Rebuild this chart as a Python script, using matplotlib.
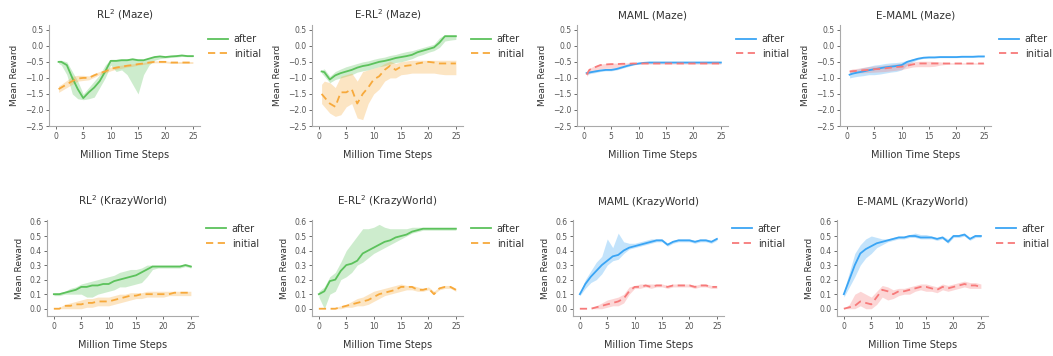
import matplotlib
matplotlib.use("Agg")
import matplotlib.pyplot as plt

# ---------------- data ----------------
x_maze = [0.5, 1, 2, 3, 4, 5, 6, 7, 8, 9, 10, 11, 12, 13, 14, 15, 16, 17, 18, 19, 20, 21, 22, 23, 24, 25]
x_krazy = [0, 1, 2, 3, 4, 5, 6, 7, 8, 9, 10, 11, 12, 13, 14, 15, 16, 17, 18, 19, 20, 21, 22, 23, 24, 25]

titles = ["RL$^2$ (Maze)", "E-RL$^2$ (Maze)", "MAML (Maze)", "E-MAML (Maze)",
          "RL$^2$ (KrazyWorld)", "E-RL$^2$ (KrazyWorld)", "MAML (KrazyWorld)", "E-MAML (KrazyWorld)"]
series_labels = ["after", "initial"]
maze_yticks = [0.5, 0.0, -0.5, -1.0, -1.5, -2.0, -2.5]
krazy_yticks = [0.0, 0.1, 0.2, 0.3, 0.4, 0.5, 0.6]
xticks = [0, 5, 10, 15, 20, 25]

# RL2 (Maze)
rl2_maze_after = [-0.5, -0.5, -0.6, -1.0, -1.35, -1.63, -1.45, -1.3, -1.1, -0.8, -0.47, -0.47, -0.45, -0.45, -0.42, -0.45, -0.45, -0.4, -0.35, -0.33, -0.35, -0.33, -0.32, -0.3, -0.32, -0.32]
rl2_maze_after_lo = [-0.55, -0.6, -0.9, -1.5, -1.65, -1.68, -1.65, -1.6, -1.3, -1.0, -0.6, -0.8, -0.75, -0.9, -1.2, -1.5, -0.9, -0.6, -0.45, -0.4, -0.38, -0.36, -0.35, -0.33, -0.34, -0.34]
rl2_maze_after_hi = [-0.45, -0.45, -0.5, -0.8, -1.1, -1.5, -1.3, -1.1, -0.9, -0.6, -0.42, -0.42, -0.4, -0.4, -0.38, -0.4, -0.42, -0.37, -0.32, -0.3, -0.32, -0.3, -0.29, -0.28, -0.3, -0.3]
rl2_maze_init = [-1.35, -1.3, -1.2, -1.1, -1.02, -1.0, -1.0, -0.92, -0.85, -0.8, -0.72, -0.68, -0.65, -0.62, -0.6, -0.57, -0.55, -0.52, -0.5, -0.5, -0.5, -0.52, -0.52, -0.52, -0.52, -0.52]
rl2_maze_init_lo = [-1.45, -1.4, -1.3, -1.2, -1.1, -1.08, -1.06, -0.98, -0.9, -0.85, -0.78, -0.73, -0.7, -0.66, -0.64, -0.6, -0.58, -0.55, -0.53, -0.53, -0.53, -0.55, -0.55, -0.55, -0.55, -0.55]
rl2_maze_init_hi = [-1.25, -1.2, -1.08, -0.95, -0.92, -0.92, -0.94, -0.86, -0.8, -0.75, -0.66, -0.63, -0.6, -0.58, -0.56, -0.54, -0.52, -0.49, -0.47, -0.47, -0.47, -0.49, -0.49, -0.49, -0.49, -0.49]

# E-RL2 (Maze)
erl2_maze_after = [-0.8, -0.82, -1.05, -0.92, -0.85, -0.8, -0.75, -0.68, -0.63, -0.6, -0.55, -0.5, -0.47, -0.43, -0.38, -0.35, -0.32, -0.28, -0.2, -0.15, -0.1, -0.05, 0.1, 0.3, 0.3, 0.3]
erl2_maze_after_lo = [-0.85, -0.95, -1.15, -1.05, -1.0, -0.95, -0.9, -0.82, -0.78, -0.75, -0.7, -0.65, -0.62, -0.57, -0.52, -0.5, -0.45, -0.4, -0.32, -0.27, -0.2, -0.15, -0.05, 0.15, 0.18, 0.2]
erl2_maze_after_hi = [-0.75, -0.72, -0.95, -0.8, -0.72, -0.65, -0.6, -0.55, -0.5, -0.47, -0.42, -0.38, -0.35, -0.3, -0.27, -0.22, -0.18, -0.15, -0.1, -0.05, 0.0, 0.05, 0.25, 0.35, 0.35, 0.35]
erl2_maze_init = [-1.5, -1.6, -1.8, -1.9, -1.45, -1.45, -1.35, -1.8, -1.5, -1.3, -1.05, -0.95, -0.75, -0.62, -0.75, -0.65, -0.62, -0.6, -0.55, -0.52, -0.5, -0.52, -0.55, -0.55, -0.55, -0.55]
erl2_maze_init_lo = [-1.8, -1.9, -2.1, -2.2, -2.15, -1.9, -1.8, -2.25, -2.3, -1.8, -1.5, -1.35, -1.1, -1.0, -1.0, -0.9, -0.88, -0.85, -0.85, -0.85, -0.85, -0.85, -0.88, -0.9, -0.9, -0.9]
erl2_maze_init_hi = [-1.2, -1.1, -1.15, -1.3, -0.95, -0.9, -0.85, -1.1, -0.8, -0.75, -0.7, -0.65, -0.55, -0.48, -0.55, -0.5, -0.47, -0.45, -0.45, -0.45, -0.45, -0.45, -0.45, -0.45, -0.45, -0.45]

# MAML (Maze)
maml_maze_after = [-0.85, -0.83, -0.8, -0.77, -0.75, -0.75, -0.72, -0.67, -0.62, -0.58, -0.55, -0.53, -0.52, -0.52, -0.52, -0.52, -0.52, -0.52, -0.52, -0.52, -0.52, -0.52, -0.52, -0.52, -0.52, -0.52]
maml_maze_after_lo = [-0.9, -0.87, -0.84, -0.8, -0.78, -0.78, -0.75, -0.7, -0.65, -0.6, -0.57, -0.55, -0.54, -0.54, -0.54, -0.54, -0.54, -0.54, -0.54, -0.54, -0.54, -0.54, -0.54, -0.54, -0.54, -0.54]
maml_maze_after_hi = [-0.8, -0.79, -0.76, -0.74, -0.72, -0.72, -0.69, -0.64, -0.59, -0.56, -0.53, -0.51, -0.5, -0.5, -0.5, -0.5, -0.5, -0.5, -0.5, -0.5, -0.5, -0.5, -0.5, -0.5, -0.5, -0.5]
maml_maze_init = [-0.9, -0.75, -0.67, -0.6, -0.58, -0.57, -0.57, -0.56, -0.56, -0.55, -0.55, -0.55, -0.55, -0.55, -0.55, -0.55, -0.55, -0.55, -0.55, -0.55, -0.55, -0.55, -0.55, -0.55, -0.55, -0.55]
maml_maze_init_lo = [-0.95, -0.85, -0.78, -0.72, -0.7, -0.7, -0.68, -0.63, -0.6, -0.58, -0.57, -0.57, -0.57, -0.57, -0.57, -0.57, -0.57, -0.57, -0.57, -0.57, -0.57, -0.57, -0.57, -0.57, -0.57, -0.57]
maml_maze_init_hi = [-0.85, -0.7, -0.62, -0.57, -0.55, -0.54, -0.54, -0.54, -0.53, -0.53, -0.53, -0.53, -0.53, -0.53, -0.53, -0.53, -0.53, -0.53, -0.53, -0.53, -0.53, -0.53, -0.53, -0.53, -0.53, -0.53]

# E-MAML (Maze)
emaml_maze_after = [-0.9, -0.87, -0.83, -0.8, -0.76, -0.73, -0.7, -0.67, -0.65, -0.63, -0.6, -0.5, -0.45, -0.4, -0.37, -0.36, -0.36, -0.35, -0.35, -0.35, -0.35, -0.34, -0.34, -0.34, -0.33, -0.33]
emaml_maze_after_lo = [-1.0, -0.98, -0.95, -0.93, -0.9, -0.9, -0.88, -0.85, -0.82, -0.8, -0.75, -0.6, -0.5, -0.43, -0.39, -0.38, -0.38, -0.37, -0.37, -0.37, -0.37, -0.36, -0.36, -0.36, -0.35, -0.35]
emaml_maze_after_hi = [-0.8, -0.76, -0.72, -0.68, -0.64, -0.6, -0.58, -0.55, -0.53, -0.52, -0.5, -0.45, -0.4, -0.37, -0.35, -0.34, -0.34, -0.33, -0.33, -0.33, -0.33, -0.32, -0.32, -0.32, -0.31, -0.31]
emaml_maze_init = [-0.8, -0.79, -0.78, -0.76, -0.75, -0.73, -0.72, -0.7, -0.68, -0.66, -0.65, -0.62, -0.58, -0.55, -0.55, -0.55, -0.55, -0.55, -0.55, -0.55, -0.55, -0.55, -0.55, -0.55, -0.55, -0.55]
emaml_maze_init_lo = [-0.85, -0.85, -0.85, -0.84, -0.83, -0.82, -0.81, -0.8, -0.78, -0.76, -0.74, -0.7, -0.66, -0.65, -0.65, -0.65, -0.64, -0.6, -0.58, -0.57, -0.57, -0.57, -0.57, -0.57, -0.57, -0.57]
emaml_maze_init_hi = [-0.75, -0.72, -0.7, -0.67, -0.65, -0.63, -0.62, -0.6, -0.58, -0.56, -0.55, -0.52, -0.5, -0.48, -0.48, -0.48, -0.49, -0.5, -0.52, -0.53, -0.53, -0.53, -0.53, -0.53, -0.53, -0.53]

# RL2 (KrazyWorld)
rl2_kw_after = [0.10, 0.10, 0.11, 0.12, 0.13, 0.15, 0.15, 0.16, 0.16, 0.17, 0.17, 0.19, 0.20, 0.21, 0.22, 0.23, 0.25, 0.27, 0.29, 0.29, 0.29, 0.29, 0.29, 0.29, 0.30, 0.29]
rl2_kw_after_lo = [0.09, 0.09, 0.10, 0.10, 0.10, 0.10, 0.08, 0.08, 0.10, 0.11, 0.12, 0.13, 0.15, 0.15, 0.16, 0.17, 0.18, 0.22, 0.27, 0.28, 0.28, 0.28, 0.28, 0.28, 0.29, 0.28]
rl2_kw_after_hi = [0.11, 0.11, 0.12, 0.14, 0.15, 0.17, 0.18, 0.19, 0.20, 0.21, 0.22, 0.23, 0.25, 0.26, 0.27, 0.27, 0.28, 0.30, 0.30, 0.30, 0.30, 0.30, 0.30, 0.30, 0.31, 0.30]
rl2_kw_init = [0.0, 0.0, 0.02, 0.02, 0.03, 0.03, 0.04, 0.04, 0.05, 0.05, 0.05, 0.06, 0.07, 0.08, 0.09, 0.09, 0.10, 0.10, 0.10, 0.10, 0.10, 0.10, 0.11, 0.11, 0.11, 0.11]
rl2_kw_init_lo = [0.0, 0.0, 0.0, 0.0, 0.0, 0.0, 0.01, 0.01, 0.02, 0.02, 0.02, 0.03, 0.04, 0.05, 0.06, 0.07, 0.07, 0.08, 0.08, 0.08, 0.08, 0.09, 0.09, 0.09, 0.09, 0.09]
rl2_kw_init_hi = [0.0, 0.01, 0.03, 0.04, 0.05, 0.06, 0.07, 0.07, 0.08, 0.08, 0.08, 0.09, 0.10, 0.10, 0.11, 0.11, 0.11, 0.12, 0.12, 0.12, 0.12, 0.12, 0.12, 0.12, 0.12, 0.12]

# E-RL2 (KrazyWorld)
erl2_kw_after = [0.10, 0.12, 0.19, 0.20, 0.26, 0.30, 0.31, 0.33, 0.38, 0.40, 0.42, 0.44, 0.46, 0.47, 0.49, 0.50, 0.51, 0.53, 0.54, 0.55, 0.55, 0.55, 0.55, 0.55, 0.55, 0.55]
erl2_kw_after_lo = [0.08, 0.0, 0.10, 0.12, 0.20, 0.22, 0.25, 0.30, 0.32, 0.35, 0.38, 0.40, 0.42, 0.44, 0.46, 0.48, 0.50, 0.52, 0.53, 0.54, 0.54, 0.54, 0.54, 0.54, 0.54, 0.54]
erl2_kw_after_hi = [0.12, 0.15, 0.22, 0.25, 0.32, 0.40, 0.45, 0.50, 0.55, 0.55, 0.56, 0.58, 0.56, 0.55, 0.55, 0.55, 0.55, 0.56, 0.56, 0.56, 0.56, 0.56, 0.56, 0.56, 0.56, 0.56]
erl2_kw_init = [0.0, 0.0, 0.0, 0.0, 0.01, 0.02, 0.03, 0.04, 0.05, 0.06, 0.08, 0.10, 0.11, 0.12, 0.13, 0.15, 0.15, 0.15, 0.13, 0.13, 0.14, 0.10, 0.14, 0.15, 0.15, 0.13]
erl2_kw_init_lo = [0.0, 0.0, 0.0, 0.0, 0.0, 0.01, 0.01, 0.02, 0.02, 0.03, 0.05, 0.07, 0.09, 0.10, 0.11, 0.12, 0.13, 0.13, 0.12, 0.12, 0.13, 0.10, 0.13, 0.14, 0.14, 0.12]
erl2_kw_init_hi = [0.0, 0.0, 0.0, 0.01, 0.02, 0.03, 0.05, 0.07, 0.08, 0.10, 0.12, 0.13, 0.14, 0.15, 0.16, 0.17, 0.16, 0.16, 0.15, 0.14, 0.15, 0.12, 0.15, 0.16, 0.16, 0.14]

# MAML (KrazyWorld)
maml_kw_after = [0.10, 0.17, 0.22, 0.26, 0.30, 0.33, 0.36, 0.37, 0.40, 0.42, 0.43, 0.44, 0.45, 0.46, 0.47, 0.47, 0.44, 0.46, 0.47, 0.47, 0.47, 0.46, 0.47, 0.47, 0.46, 0.48]
maml_kw_after_lo = [0.09, 0.14, 0.18, 0.20, 0.24, 0.30, 0.33, 0.34, 0.38, 0.41, 0.42, 0.43, 0.44, 0.45, 0.46, 0.46, 0.43, 0.45, 0.46, 0.46, 0.46, 0.45, 0.46, 0.46, 0.45, 0.47]
maml_kw_after_hi = [0.11, 0.20, 0.26, 0.32, 0.36, 0.48, 0.42, 0.52, 0.46, 0.45, 0.45, 0.46, 0.47, 0.48, 0.48, 0.48, 0.45, 0.47, 0.48, 0.48, 0.48, 0.47, 0.48, 0.48, 0.47, 0.49]
maml_kw_init = [0.0, 0.0, 0.0, 0.01, 0.02, 0.03, 0.04, 0.05, 0.07, 0.12, 0.15, 0.15, 0.16, 0.15, 0.16, 0.16, 0.15, 0.16, 0.16, 0.16, 0.16, 0.15, 0.16, 0.16, 0.15, 0.15]
maml_kw_init_lo = [0.0, 0.0, 0.0, 0.0, 0.0, 0.01, 0.02, 0.02, 0.04, 0.10, 0.14, 0.14, 0.15, 0.14, 0.15, 0.15, 0.14, 0.15, 0.15, 0.15, 0.15, 0.14, 0.15, 0.15, 0.14, 0.14]
maml_kw_init_hi = [0.0, 0.0, 0.0, 0.02, 0.04, 0.06, 0.07, 0.08, 0.10, 0.15, 0.16, 0.17, 0.17, 0.17, 0.17, 0.17, 0.16, 0.17, 0.17, 0.17, 0.17, 0.16, 0.17, 0.17, 0.16, 0.16]

# E-MAML (KrazyWorld)
emaml_kw_after = [0.10, 0.20, 0.30, 0.38, 0.41, 0.43, 0.45, 0.46, 0.47, 0.48, 0.49, 0.49, 0.50, 0.50, 0.49, 0.49, 0.49, 0.48, 0.49, 0.46, 0.50, 0.50, 0.51, 0.48, 0.50, 0.50]
emaml_kw_after_lo = [0.08, 0.15, 0.22, 0.30, 0.35, 0.38, 0.42, 0.44, 0.46, 0.47, 0.48, 0.48, 0.49, 0.49, 0.48, 0.48, 0.48, 0.47, 0.48, 0.45, 0.49, 0.49, 0.50, 0.47, 0.49, 0.49]
emaml_kw_after_hi = [0.12, 0.25, 0.38, 0.44, 0.48, 0.50, 0.49, 0.48, 0.48, 0.49, 0.50, 0.50, 0.51, 0.52, 0.51, 0.51, 0.50, 0.49, 0.50, 0.48, 0.51, 0.51, 0.52, 0.49, 0.51, 0.51]
emaml_kw_init = [0.0, 0.01, 0.02, 0.05, 0.04, 0.03, 0.08, 0.13, 0.12, 0.10, 0.12, 0.12, 0.13, 0.14, 0.15, 0.15, 0.14, 0.13, 0.15, 0.14, 0.15, 0.16, 0.17, 0.16, 0.16, 0.15]
emaml_kw_init_lo = [0.0, 0.0, 0.0, 0.02, 0.0, 0.0, 0.03, 0.08, 0.06, 0.07, 0.09, 0.10, 0.10, 0.12, 0.13, 0.12, 0.12, 0.11, 0.13, 0.12, 0.13, 0.14, 0.15, 0.14, 0.14, 0.14]
emaml_kw_init_hi = [0.0, 0.03, 0.10, 0.12, 0.10, 0.08, 0.12, 0.16, 0.15, 0.13, 0.14, 0.14, 0.15, 0.16, 0.17, 0.17, 0.16, 0.15, 0.17, 0.16, 0.17, 0.18, 0.19, 0.18, 0.18, 0.17]

# ---------------- styling / layout ----------------
GREEN, ORANGE = "#5cc25c", "#f7a93b"
BLUE, RED = "#3aa5f5", "#f77a7a"

panels = [
    (x_maze, rl2_maze_after, rl2_maze_after_lo, rl2_maze_after_hi, rl2_maze_init, rl2_maze_init_lo, rl2_maze_init_hi, GREEN, ORANGE),
    (x_maze, erl2_maze_after, erl2_maze_after_lo, erl2_maze_after_hi, erl2_maze_init, erl2_maze_init_lo, erl2_maze_init_hi, GREEN, ORANGE),
    (x_maze, maml_maze_after, maml_maze_after_lo, maml_maze_after_hi, maml_maze_init, maml_maze_init_lo, maml_maze_init_hi, BLUE, RED),
    (x_maze, emaml_maze_after, emaml_maze_after_lo, emaml_maze_after_hi, emaml_maze_init, emaml_maze_init_lo, emaml_maze_init_hi, BLUE, RED),
    (x_krazy, rl2_kw_after, rl2_kw_after_lo, rl2_kw_after_hi, rl2_kw_init, rl2_kw_init_lo, rl2_kw_init_hi, GREEN, ORANGE),
    (x_krazy, erl2_kw_after, erl2_kw_after_lo, erl2_kw_after_hi, erl2_kw_init, erl2_kw_init_lo, erl2_kw_init_hi, GREEN, ORANGE),
    (x_krazy, maml_kw_after, maml_kw_after_lo, maml_kw_after_hi, maml_kw_init, maml_kw_init_lo, maml_kw_init_hi, BLUE, RED),
    (x_krazy, emaml_kw_after, emaml_kw_after_lo, emaml_kw_after_hi, emaml_kw_init, emaml_kw_init_lo, emaml_kw_init_hi, BLUE, RED),
]

W, H = 1053, 356
fig = plt.figure(figsize=(W / 100, H / 100), dpi=100)
plt.rcParams['font.family'] = ['DejaVu Sans']

top_lefts = [49, 312, 577, 840]
bot_lefts = [47, 312, 573, 837]
top_box = (25, 126)
bot_box = (220, 316)
GRAY = "#555555"

for i, p in enumerate(panels):
    x, a, alo, ahi, ini, ilo, ihi, ca, ci = p
    row = i // 4
    col = i % 4
    left = (top_lefts if row == 0 else bot_lefts)[col]
    ytop, ybot = top_box if row == 0 else bot_box
    ax = fig.add_axes([left / W, 1 - ybot / H, 151 / W, (ybot - ytop) / H])
    ax.fill_between(x, alo, ahi, color=ca, alpha=0.3, linewidth=0)
    ax.fill_between(x, ilo, ihi, color=ci, alpha=0.3, linewidth=0)
    ax.plot(x, a, color=ca, lw=1.3, label=series_labels[0])
    ax.plot(x, ini, color=ci, lw=1.3, ls=(0, (4, 2.5)), label=series_labels[1])
    ax.set_xlim(-1.25, 26.3)
    ax.set_xticks(xticks)
    if row == 0:
        ax.set_ylim(-2.5, 0.65)
        ax.set_yticks(maze_yticks)
    else:
        ax.set_ylim(-0.05, 0.61)
        ax.set_yticks(krazy_yticks)
        ax.set_yticklabels([f"{v:.1f}" for v in krazy_yticks])
    for s in ["top", "right"]:
        ax.spines[s].set_visible(False)
    for s in ["left", "bottom"]:
        ax.spines[s].set_color("#aaaaaa")
        ax.spines[s].set_linewidth(0.8)
    ax.tick_params(labelsize=5.5, colors=GRAY, length=2, width=0.6, pad=2)
    ax.set_title(titles[i], fontsize=7.5, color="#333333", pad=(5 if row == 0 else 11))
    ax.set_xlabel("Million Time Steps", fontsize=7, color="#333333", labelpad=7)
    ax.set_ylabel("Mean Reward", fontsize=6.5, color="#333333", labelpad=4)
    ax.legend(loc="upper left", bbox_to_anchor=(1.03, 0.95 if row == 0 else 1.0), frameon=False,
              fontsize=7, handlelength=2.0, handletextpad=0.6, labelcolor="#333333",
              borderaxespad=0.0)

fig.savefig("out.png", dpi=100)
